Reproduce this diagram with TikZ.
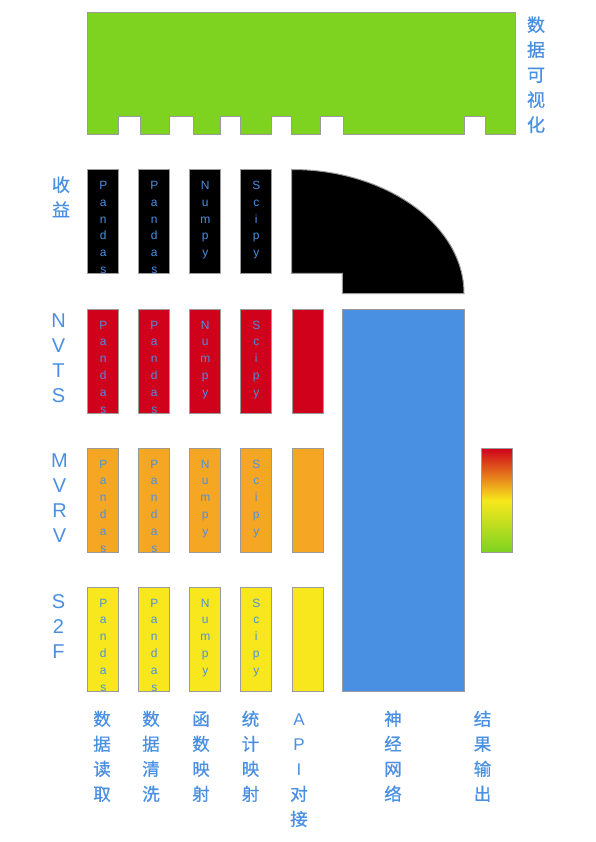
\documentclass[tikz,border=0pt]{standalone}
\usepackage{fontspec}
\setmainfont{Liberation Sans}
\newfontfamily\cjk[FakeBold=0.8]{Noto Sans CJK SC}
\definecolor{cgreen}{HTML}{7ED321}
\definecolor{cred}{HTML}{D0021B}
\definecolor{corange}{HTML}{F5A623}
\definecolor{cyellow}{HTML}{F8E71C}
\definecolor{cblue}{HTML}{4A90E2}
\definecolor{cgray}{HTML}{9B9B9B}
\newcommand\vstack[2]{\vtop{\baselineskip=#1\lineskiplimit=-\maxdimen\lineskip=0pt\halign{\hfil##\hfil\cr#2\crcr}}}
\tikzset{
  cell/.style={draw=cgray, line width=1pt, rectangle, anchor=north west, inner sep=0pt,
    minimum width=31pt, minimum height=103.5pt},
  celltxt/.style={anchor=base, inner sep=0pt, text=cblue, font=\fontsize{12}{17}\selectfont},
  lbl/.style={anchor=base, inner sep=0pt, text=cblue, font=\fontsize{18}{25}\selectfont},
  latlbl/.style={anchor=base, inner sep=0pt, text=cblue, font=\fontsize{20}{25}\selectfont},
}
\newcommand\pandas{\vstack{16.8pt}{P\cr a\cr n\cr d\cr a\cr s}}
\newcommand\numpy{\vstack{16.8pt}{N\cr u\cr m\cr p\cr y}}
\newcommand\scipy{\vstack{16.8pt}{S\cr c\cr i\cr p\cr y}}
\begin{document}
\begin{tikzpicture}[x=1pt,y=-1pt]
\path[use as bounding box] (0,0) rectangle (595,842);
% top green visualisation block
\draw[fill=cgreen, draw=cgray, line width=1pt]
  (87.3,12.3) -- (515.5,12.3) -- (515.5,134.3) -- (485,134.3) -- (485,117) -- (464.3,117) -- (464.3,134.3)
  -- (343.3,134.3) -- (343.3,117) -- (320.7,117) -- (320.7,134.3)
  -- (291.3,134.3) -- (291.3,117) -- (271.7,117) -- (271.7,134.3)
  -- (240.3,134.3) -- (240.3,117) -- (220.7,117) -- (220.7,134.3)
  -- (193.3,134.3) -- (193.3,117) -- (169.3,117) -- (169.3,134.3)
  -- (140,134.3) -- (140,117) -- (118.3,117) -- (118.3,134.3)
  -- (87.3,134.3) -- cycle;
\node[lbl, font=\cjk\fontsize{18}{25}\selectfont] (lvis) at (536,31.5) {\vstack{25pt}{数\cr 据\cr 可\cr 视\cr 化}};
% black elbow shape
\draw[fill=black, draw=cgray, line width=1pt]
  (291.7,169.5) .. controls (386.9,169.5) and (464,225.5) .. (464,293.5)
  -- (342.3,293.5) -- (342.3,273.3) -- (291.7,273.3) -- cycle;
% rows of cells
\foreach \r/\y/\c in {1/169.5/black, 2/309/cred, 3/448/corange, 4/587/cyellow}{
  \node[cell, fill=\c] (b\r a) at (87.3,\y) {};
  \node[cell, fill=\c] (b\r b) at (138.3,\y) {};
  \node[cell, fill=\c] (b\r c) at (189.3,\y) {};
  \node[cell, fill=\c] (b\r d) at (240.3,\y) {};
  \node[celltxt] (t\r a) at ([yshift=-20pt]b\r a.north) {\pandas};
  \node[celltxt] (t\r b) at ([yshift=-20pt]b\r b.north) {\pandas};
  \node[celltxt] (t\r c) at ([yshift=-20pt]b\r c.north) {\numpy};
  \node[celltxt] (t\r d) at ([yshift=-20pt]b\r d.north) {\scipy};
}
\node[cell, fill=cred] (b2e) at (291.7,309) {};
\node[cell, fill=corange] (b3e) at (291.7,448) {};
\node[cell, fill=cyellow] (b4e) at (291.7,587) {};
% neural network block
\node[cell, fill=cblue, minimum width=122pt, minimum height=381.5pt] (nn) at (342.3,309) {};
% result gradient
\node[cell, top color=cred, bottom color=cgreen, middle color=cyellow, draw=cgray] (res) at (480.5,448) {};
% row labels
\node[lbl, font=\cjk\fontsize{18}{25}\selectfont] (r1) at (61,191.5) {\vstack{25pt}{收\cr 益}};
\node[latlbl] (r2) at (58.5,327.7) {\vstack{25pt}{N\cr V\cr T\cr S}};
\node[latlbl] (r3) at (59.5,467.3) {\vstack{25pt}{M\cr V\cr R\cr V}};
\node[latlbl] (r4) at (58.5,608.8) {\vstack{25pt}{S\cr 2\cr F}};
% column labels
\begin{scope}[every node/.style={lbl, font=\cjk\fontsize{17.5}{25}\selectfont}]
\node (c1) at (102,725.5) {\vstack{25pt}{数\cr 据\cr 读\cr 取}};
\node (c2) at (151,725.5) {\vstack{25pt}{数\cr 据\cr 清\cr 洗}};
\node (c3) at (201,725.5) {\vstack{25pt}{函\cr 数\cr 映\cr 射}};
\node (c4) at (250.5,725.5) {\vstack{25pt}{统\cr 计\cr 映\cr 射}};
\node (c6) at (393,725.5) {\vstack{25pt}{神\cr 经\cr 网\cr 络}};
\node (c7) at (482.5,725.5) {\vstack{25pt}{结\cr 果\cr 输\cr 出}};
\end{scope}
\node[lbl, font=\fontsize{17}{25}\selectfont] (c5) at (299,725.5) {\vstack{25pt}{A\cr P\cr I\cr {\cjk\fontsize{17.5}{25}\selectfont 对}\cr {\cjk\fontsize{17.5}{25}\selectfont 接}}};
\end{tikzpicture}
\end{document}
